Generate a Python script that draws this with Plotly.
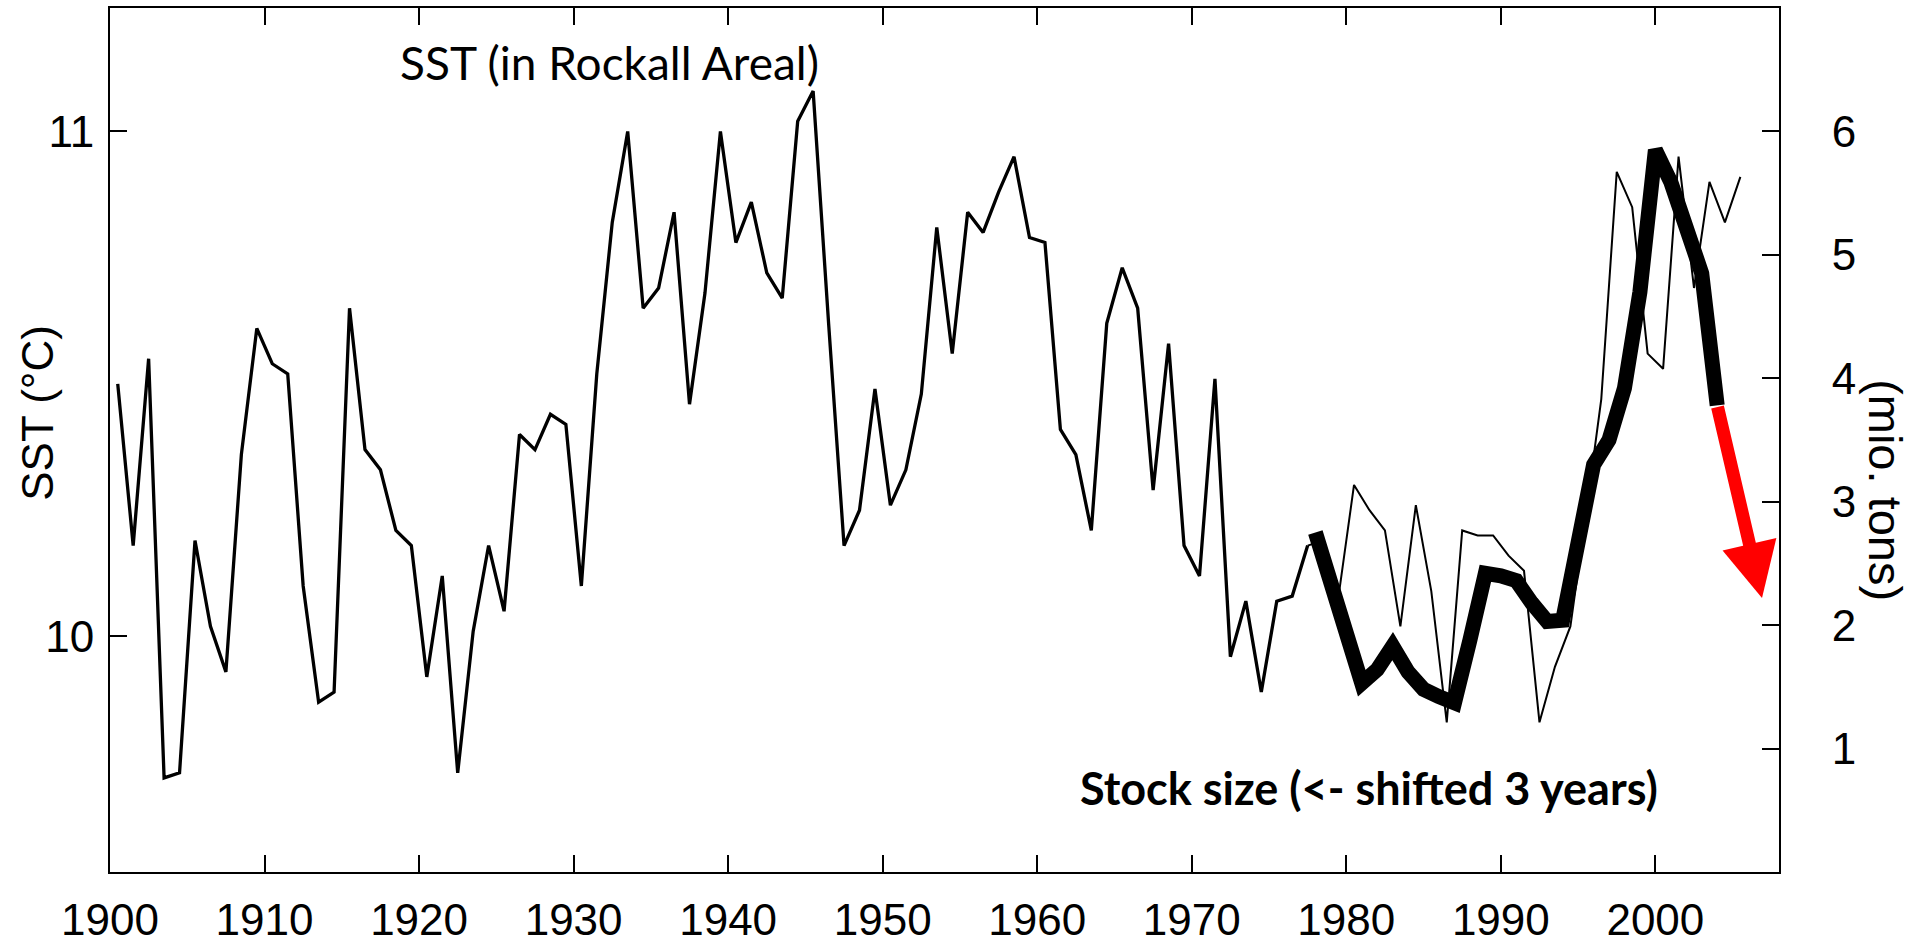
import plotly.graph_objects as go

# ---------------- data ----------------
sst_years = list(range(1900, 2006))
sst_values = [
    10.50, 10.18, 10.55, 9.72, 9.73, 10.19, 10.02, 9.93, 10.36, 10.61,   # 1900-1909
    10.54, 10.52, 10.10, 9.87, 9.89, 10.65, 10.37, 10.33, 10.21, 10.18,  # 1910-1919
    9.92, 10.12, 9.73, 10.01, 10.18, 10.05, 10.40, 10.37, 10.44, 10.42,  # 1920-1929
    10.10, 10.52, 10.82, 11.00, 10.65, 10.69, 10.84, 10.46, 10.68, 11.00,  # 1930-1939
    10.78, 10.86, 10.72, 10.67, 11.02, 11.08, 10.62, 10.18, 10.25, 10.49,  # 1940-1949
    10.26, 10.33, 10.48, 10.81, 10.56, 10.84, 10.80, 10.88, 10.95, 10.79,  # 1950-1959
    10.78, 10.41, 10.36, 10.21, 10.62, 10.73, 10.65, 10.29, 10.58, 10.18,  # 1960-1969
    10.12, 10.51, 9.96, 10.07, 9.89, 10.07, 10.08, 10.18, 10.19, 10.08,   # 1970-1979
    10.30, 10.25, 10.21, 10.02, 10.26, 10.09, 9.83, 10.21, 10.20, 10.20,  # 1980-1989
    10.16, 10.13, 9.83, 9.94, 10.02, 10.24, 10.47, 10.92, 10.85, 10.56,   # 1990-1999
    10.53, 10.95, 10.69, 10.90, 10.82, 10.91,                             # 2000-2005
]

stock_years = list(range(1978, 2005))
stock_values = [
    2.75, 2.35, 1.95, 1.53, 1.64, 1.83, 1.62, 1.48, 1.42, 1.37,   # 1978-1987
    1.88, 2.42, 2.40, 2.36, 2.18, 2.03, 2.04, 2.72, 3.30, 3.50,   # 1988-1997
    3.92, 4.70, 5.85, 5.59, 5.20, 4.85, 3.78,                     # 1998-2004
]

# projected decline (red arrow): from last stock value to the arrow tip
projection_years = [2004, 2006.9]
projection_values = [3.78, 2.22]

x_ticks = [1900, 1910, 1920, 1930, 1940, 1950, 1960, 1970, 1980, 1990, 2000]
sst_ticks = [10, 11]
stock_ticks = [1, 2, 3, 4, 5, 6]

# SST values are annual means, drawn at mid-year
sst_x = [y + 0.5 for y in sst_years]
split = sst_years.index(1977)

AX_FONT = dict(family="Liberation Sans, Arial, sans-serif", size=44, color="black")

fig = go.Figure()
fig.add_trace(go.Scatter(x=sst_x[:split + 1], y=sst_values[:split + 1], mode="lines",
                         line=dict(color="black", width=3.3), showlegend=False,
                         hoverinfo="skip"))
fig.add_trace(go.Scatter(x=sst_x[split:], y=sst_values[split:], mode="lines",
                         line=dict(color="black", width=2), showlegend=False,
                         hoverinfo="skip"))
fig.add_trace(go.Scatter(x=stock_years, y=stock_values, mode="lines", yaxis="y2",
                         line=dict(color="black", width=15), showlegend=False,
                         hoverinfo="skip"))

fig.add_annotation(x=projection_years[1], y=projection_values[1], xref="x", yref="y2",
                   ax=projection_years[0], ay=projection_values[0], axref="x", ayref="y2",
                   text="", showarrow=True, arrowhead=2, arrowsize=0.85, arrowwidth=13,
                   arrowcolor="#ff0000", standoff=0, startstandoff=0)

fig.add_annotation(x=1932.3, y=11.136, xref="x", yref="y", text="SST (in Rockall Areal)",
                   showarrow=False, xanchor="center", yanchor="middle",
                   font=dict(family="Lato, Open Sans, sans-serif", size=46, color="black"))
fig.add_annotation(x=1981.5, y=0.68, xref="x", yref="y2",
                   text="<b>Stock size (&lt;- shifted 3 years)</b>",
                   showarrow=False, xanchor="center", yanchor="middle",
                   font=dict(family="Lato, Open Sans, sans-serif", size=45, color="black"))

fig.add_annotation(x=-0.0434, y=0.531, xref="paper", yref="paper", text="SST (°C)",
                   textangle=-90, showarrow=False, xanchor="center", yanchor="middle",
                   font=AX_FONT)
fig.add_annotation(x=1.0641, y=0.442, xref="paper", yref="paper", text="(mio. tons)",
                   textangle=90, showarrow=False, xanchor="center", yanchor="middle",
                   font=dict(family="Liberation Sans, Arial, sans-serif", size=47, color="black"))

fig.update_layout(
    width=1915, height=950,
    margin=dict(l=110, r=136, t=6, b=62),
    paper_bgcolor="white", plot_bgcolor="white",
    xaxis=dict(range=[1900, 2008], tickvals=x_ticks, ticks="inside", ticklen=17,
               tickwidth=2, tickcolor="black", showline=True, linecolor="black",
               linewidth=2, mirror="ticks", showgrid=False, zeroline=False,
               tickfont=AX_FONT, ticklabelstandoff=8),
    yaxis=dict(range=[9.5337, 11.2444], tickvals=sst_ticks, ticks="inside", ticklen=17,
               tickwidth=2, tickcolor="black", showline=True, linecolor="black",
               linewidth=2, showgrid=False, zeroline=False, tickfont=AX_FONT,
               ticklabelstandoff=5),
    yaxis2=dict(range=[0, 7], tickvals=stock_ticks, ticks="inside", ticklen=17,
                tickwidth=2, tickcolor="black", showline=True, linecolor="black",
                linewidth=2, showgrid=False, zeroline=False, tickfont=AX_FONT,
                overlaying="y", side="right", ticklabelstandoff=42),
)

fig.write_html("out.html", config={"displayModeBar": False},
               post_script="document.body.style.margin='0px';document.body.style.overflow='hidden';")
